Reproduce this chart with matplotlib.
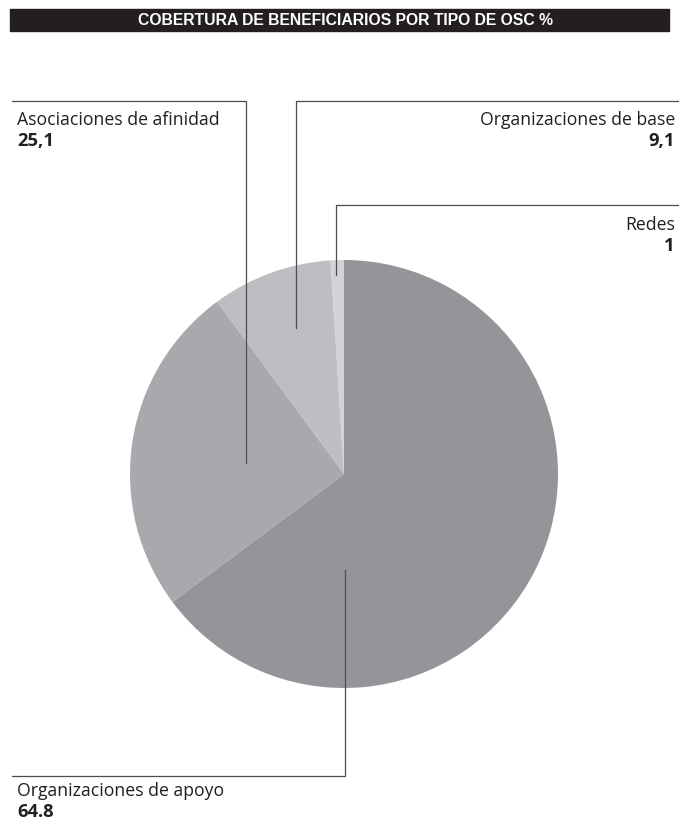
import matplotlib.pyplot as plt
from matplotlib.patches import Rectangle

# data
labels = ['Organizaciones de apoyo', 'Asociaciones de afinidad', 'Organizaciones de base', 'Redes']
values = [64.8, 25.1, 9.1, 1.0]
value_text = ['64.8', '25,1', '9,1', '1']
colors = ['#939598', '#a7a9ac', '#bcbec1', '#d1d3d4']
title = 'COBERTURA DE BENEFICIARIOS POR TIPO DE OSC %'

plt.rcParams['font.family'] = ['Open Sans', 'DejaVu Sans']

fig = plt.figure(figsize=(6.79, 8.26), dpi=100)
ax = fig.add_axes([0, 0, 1, 1])

# pie in pixel coordinates (y axis inverted -> start at -90, counterclockwise in data = clockwise on screen)
ax.pie(values, colors=colors, startangle=-90, counterclock=True,
       center=(344, 474), radius=214, wedgeprops=dict(linewidth=0))
ax.set_xlim(0, 679)
ax.set_ylim(826, 0)
ax.set_aspect('equal')
ax.axis('off')

# title bar
ax.add_patch(Rectangle((10, 9), 659, 22, color='#231f20', zorder=3))
ax.text(346, 20.5, title, color='white', fontsize=11.3, fontweight='bold',
        family=['Liberation Sans Narrow', 'Liberation Sans', 'DejaVu Sans'],
        ha='center', va='center', zorder=4)

# leader lines
lc = '#4d4d4f'
lw = 0.9
ax.plot([246, 246, 12], [463, 101, 101], color=lc, lw=lw)
ax.plot([296, 296, 679], [328, 101, 101], color=lc, lw=lw)
ax.plot([336, 336, 679], [275, 205, 205], color=lc, lw=lw)
ax.plot([345, 345, 12], [570, 776, 776], color=lc, lw=lw)

tc = '#231f20'
fs = 12.7
fb = 13.2
# labels
ax.text(17, 120, labels[1], fontsize=fs, color=tc, ha='left', va='center')
ax.text(17, 141, value_text[1], fontsize=fb, color=tc, ha='left', va='center', fontweight='bold')

ax.text(675, 120, labels[2], fontsize=fs, color=tc, ha='right', va='center')
ax.text(675, 141, value_text[2], fontsize=fb, color=tc, ha='right', va='center', fontweight='bold')

ax.text(675, 225, labels[3], fontsize=fs, color=tc, ha='right', va='center')
ax.text(675, 246, value_text[3], fontsize=fb, color=tc, ha='right', va='center', fontweight='bold')

ax.text(17, 791, labels[0], fontsize=fs, color=tc, ha='left', va='center')
ax.text(17, 812, value_text[0], fontsize=fb, color=tc, ha='left', va='center', fontweight='bold')

fig.savefig('out.png', dpi=100)
